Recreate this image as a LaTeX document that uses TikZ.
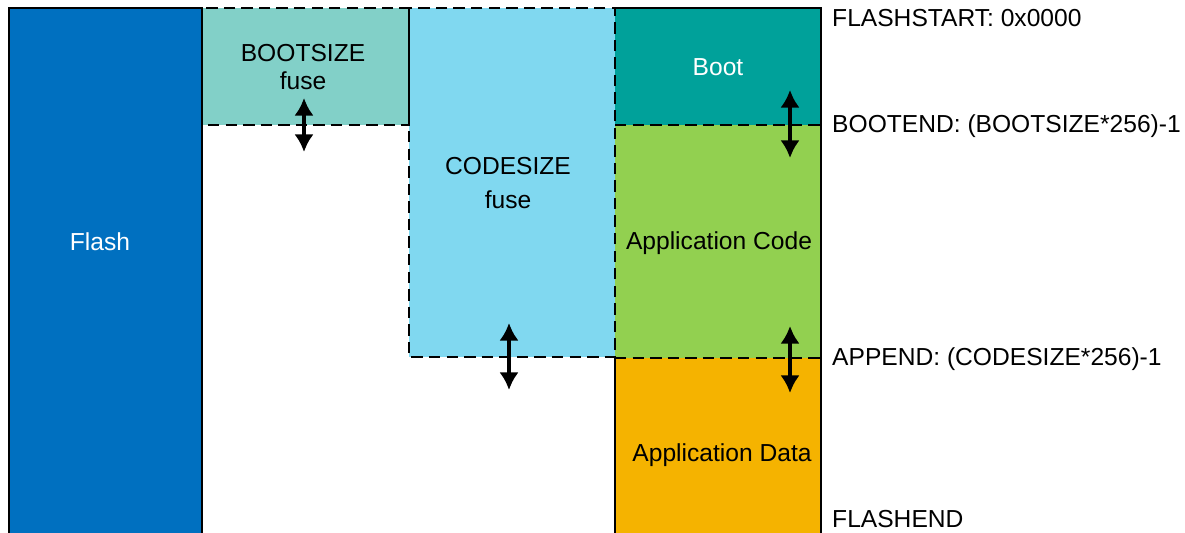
\documentclass[tikz,border=0pt]{standalone}
\usepackage{fontspec}
\setmainfont{Liberation Sans}
\usetikzlibrary{arrows.meta}
\definecolor{flashblue}{RGB}{0,112,192}
\definecolor{bootfuse}{RGB}{130,208,200}
\definecolor{codefuse}{RGB}{128,216,240}
\definecolor{bootsec}{RGB}{0,161,154}
\definecolor{codesec}{RGB}{146,208,80}
\definecolor{datasec}{RGB}{245,179,0}

\begin{document}
\begin{tikzpicture}[x=0.02cm,y=-0.02cm,
    sep/.style={dash pattern=on 6.5pt off 3.5pt,line width=1pt},
    edge/.style={line width=1pt},
    size/.style={{Latex[length=10pt,width=11pt]}-{Latex[length=10pt,width=11pt]},line width=2pt},
    txt/.style={font=\fontsize{14}{16}\selectfont,align=center},
    addr/.style={font=\fontsize{14}{16}\selectfont,anchor=west}]
    \clip (0,0) rectangle (1185,533);
    % fuse ranges
    \fill[bootfuse] (202,8) rectangle (409,125);
    \fill[codefuse] (409,8) rectangle (615,357);
    % flash sections
    \fill[bootsec] (615,8) rectangle (821,125);
    \fill[codesec] (615,125) rectangle (821,358);
    \fill[datasec] (615,358) rectangle (821,545);
    \draw[sep] (202,8) rectangle (409,125);
    \draw[sep] (409,8) rectangle (615,357);
    \draw[sep] (615,125) -- (821,125);
    \draw[sep] (615,358) -- (821,358);
    \draw[edge] (615,545) -- (615,358);
    \draw[edge] (615,8) -- (821,8) -- (821,545);
    \draw[edge,fill=flashblue] (9,8) rectangle (202,545);
    % texts
    \node[txt,text=white] (flash) at (100,242) {Flash};
    \node[txt] (bootsize) at (303,67) {BOOTSIZE\\fuse};
    \node[txt] (codesize) at (508,183) {CODESIZE\\[3pt]fuse};
    \node[txt,text=white] (boot) at (718,67) {Boot};
    \node[txt] (appcode) at (719,243) {Application Code};
    \node[txt] (appdata) at (722,455) {Application Data};
    \node[addr] (flashstart) at (826,18) {FLASHSTART: 0x0000};
    \node[addr] (bootend) at (826,126) {BOOTEND: (BOOTSIZE*256)-1};
    \node[addr] (append) at (826,359) {APPEND: (CODESIZE*256)-1};
    \node[addr] (flashend) at (826,519) {FLASHEND};
    % size arrows
    \coordinate (bs top) at (304,98);
    \coordinate (bs bot) at (304,152);
    \coordinate (cs top) at (509,323);
    \coordinate (cs bot) at (509,390);
    \coordinate (be top) at (790,90);
    \coordinate (be bot) at (790,158);
    \coordinate (ae top) at (790,326);
    \coordinate (ae bot) at (790,393);
    \draw[size] (bs top) -- (bs bot);
    \draw[size] (cs top) -- (cs bot);
    \draw[size] (be top) -- (be bot);
    \draw[size] (ae top) -- (ae bot);
\end{tikzpicture}
\end{document}
